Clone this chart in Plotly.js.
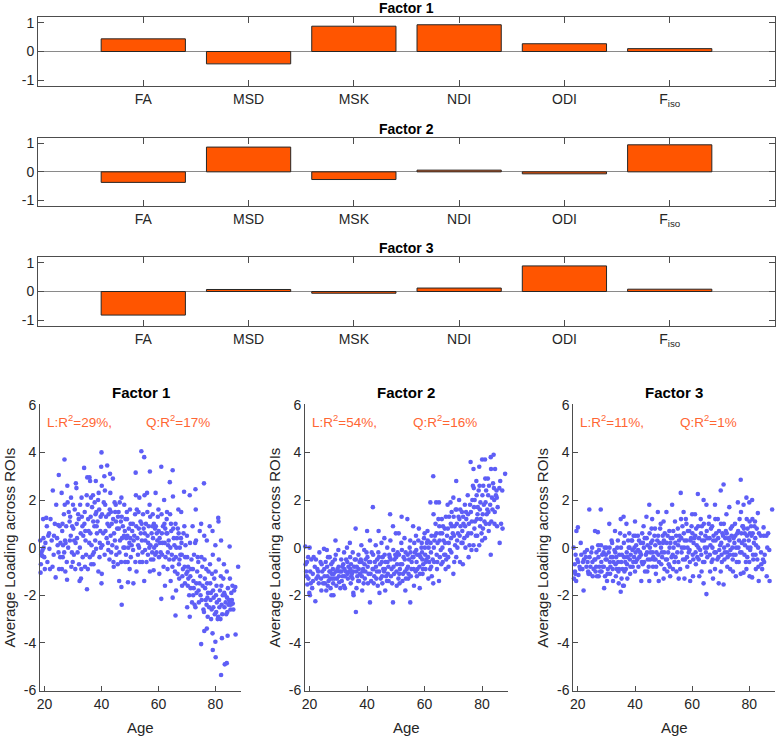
<!DOCTYPE html>
<html>
<head>
<meta charset="utf-8">
<script src="https://cdn.plot.ly/plotly-3.0.1.min.js"></script>
<style>html,body{margin:0;padding:0;background:#fff;}#chart{width:777px;height:736px;}</style>
</head>
<body>
<div id="chart"></div>
<script>
// ---------- Data ----------
const measures = ['FA','MSD','MSK','NDI','ODI','F<sub>iso</sub>'];
const factor1Loadings = [0.44,-0.43,0.88,0.93,0.27,0.10];
const factor2Loadings = [-0.37,0.87,-0.27,0.06,-0.07,0.95];
const factor3Loadings = [-0.82,0.07,-0.06,0.12,0.89,0.08];
const factorTitles = ['Factor 1','Factor 2','Factor 3'];
const linearR2 = ['29%','54%','11%'];
const quadR2 = ['17%','16%','1%'];

const factor1Points = [
[18.5,0.3],[18.6,-1.05],[18.9,-0.2],[19.2,-0.35],[19.5,1.2],[19.9,-0.4],[20.1,-0.9],[19.7,0.0],[20.6,1.25],[19.3,-0.1],[18.8,-0.3],[20.3,0.2],[21.0,-0.6],
[21.3,0.5],[21.7,-0.05],[22.1,1.2],[22.9,2.4],[23.3,0.5],[24.1,1.8],[23.9,-1.25],[24.4,0.4],[25.0,3.05],[25.3,0.9],[25.1,-0.9],[25.6,0.2],[21.6,0.6],[23.2,-0.3],[24.6,0.1],[22.5,0.3],[24.8,0.95],[25.5,-0.4],
[26.0,2.3],[26.2,0.7],[26.4,-0.4],[27.0,3.7],[27.2,0.3],[27.3,-1.0],[26.8,1.4],[28.0,2.6],[28.1,1.9],[28.3,0.0],[27.9,-1.35],[28.5,1.5],[29.0,1.3],[29.2,0.5],[29.4,-0.8],[30.0,1.8],[30.1,0.8],[30.3,-0.3],[30.6,1.6],[26.5,0.1],[29.6,-0.2],[30.4,0.3],[27.6,0.9],[28.8,1.1],[26.1,-0.9],[29.9,-0.6],[27.4,0.2],
[31.0,2.7],[31.2,2.5],[31.4,0.4],[32.0,1.2],[32.1,-0.7],[32.3,-1.4],[33.0,2.1],[33.1,1.3],[33.3,0.9],[32.8,-1.3],[33.9,3.35],[34.1,1.5],[34.2,-0.8],[34.4,0.3],[35.0,2.95],[35.1,1.8],[35.2,-0.9],[34.9,-1.75],[35.5,0.7],[32.4,0.0],[31.3,1.0],[34.0,1.0],[33.6,0.5],[31.8,1.4],[35.3,1.2],[34.6,-0.3],[32.7,0.6],
[36.0,2.8],[35.8,2.95],[36.2,1.3],[36.4,-0.7],[36.1,0.6],[37.0,2.2],[37.1,1.1],[37.3,-0.2],[37.2,-0.7],[38.0,2.8],[38.2,1.5],[38.4,0.6],[38.1,-0.05],[39.0,2.3],[39.2,1.6],[39.4,0.2],[38.9,-1.0],[40.0,4.0],[39.9,3.4],[40.1,2.6],[40.2,1.4],[40.3,0.1],[40.0,-1.5],[40.1,-1.1],[37.5,0.9],[39.6,0.7],[36.7,1.7],[38.6,1.1],[37.8,0.3],[39.7,1.3],[36.5,0.1],
[41.0,3.0],[41.2,2.4],[41.4,0.7],[41.1,-0.3],[42.0,3.45],[42.1,1.0],[42.3,0.2],[43.0,3.1],[43.1,2.3],[43.3,1.5],[43.2,0.5],[43.4,-0.2],[44.0,2.9],[44.1,1.2],[44.2,-0.6],[44.4,0.6],[45.0,1.8],[45.1,1.1],[45.3,0.0],[45.2,-0.3],[42.4,-0.1],[44.3,-0.8],[41.6,1.3],[42.7,0.9],[43.6,1.0],[44.7,0.3],[45.5,0.8],[42.9,1.6],
[46.0,1.5],[46.1,0.8],[46.3,-0.2],[46.2,-1.4],[47.0,2.1],[47.1,1.3],[47.2,0.4],[47.0,-1.65],[47.1,-2.4],[48.0,1.8],[48.2,0.7],[48.1,0.0],[48.3,-0.6],[49.0,1.2],[49.1,0.5],[49.2,-0.6],[49.3,-1.45],[50.0,1.6],[50.1,0.4],[50.3,-0.4],[50.2,1.0],[48.4,1.2],[46.5,0.3],[47.5,0.9],[48.7,0.4],[49.6,0.8],[46.8,1.1],[50.6,0.1],[49.8,0.2],[47.7,0.0],
[51.0,1.0],[51.1,-0.1],[51.2,-1.5],[52.0,3.15],[52.1,2.2],[52.2,0.9],[52.3,-1.0],[53.0,1.5],[53.1,0.8],[53.2,0.0],[53.3,2.1],[54.0,4.05],[54.1,1.0],[54.2,0.3],[54.3,-0.6],[55.0,3.8],[55.1,2.2],[55.2,0.6],[55.3,-0.1],[55.0,-1.4],[51.5,0.5],[53.5,-0.6],[52.6,0.4],[54.6,1.4],[51.8,1.4],[55.6,1.0],[53.8,0.6],[52.8,-0.3],
[56.0,2.3],[56.1,1.5],[56.2,0.5],[56.3,-0.3],[57.0,3.2],[57.1,1.3],[57.2,0.1],[57.0,-1.0],[58.0,1.4],[58.1,0.4],[58.2,-0.5],[58.3,-0.95],[59.0,2.3],[59.1,0.9],[59.2,0.1],[59.3,-0.2],[60.0,1.6],[60.1,0.7],[60.2,-0.4],[60.3,-1.1],[58.5,0.0],[60.5,0.2],[56.6,0.9],[57.6,0.6],[58.8,0.8],[59.6,0.3],[56.8,0.0],[57.8,-0.2],
[61.0,3.4],[61.1,1.4],[61.2,0.6],[61.3,-0.3],[61.0,-2.15],[62.0,2.0],[62.1,1.0],[62.2,0.2],[62.3,-1.6],[63.0,1.5],[63.1,0.6],[63.2,-0.9],[63.3,-0.2],[64.0,2.75],[64.1,1.4],[64.2,0.0],[64.3,-1.4],[65.0,3.25],[65.1,2.15],[65.2,0.8],[65.3,-0.5],[65.0,-2.1],[62.5,-0.4],[64.5,0.7],[61.6,0.9],[63.6,0.3],[62.8,0.6],[64.7,-0.3],[65.6,0.1],
[66.0,1.0],[66.1,-0.4],[66.2,-1.8],[66.0,-2.85],[67.0,1.6],[67.1,0.6],[67.2,-0.7],[67.3,-1.3],[68.0,1.5],[68.1,0.2],[68.2,-0.3],[68.3,-1.6],[69.0,2.35],[69.1,0.9],[69.2,-0.8],[69.3,-1.5],[70.0,0.5],[70.1,-0.4],[70.2,-1.0],[70.3,-1.6],[70.1,-2.5],[67.5,0.0],[69.5,0.1],[66.5,0.4],[68.6,-0.9],[70.5,-1.3],[67.7,-0.3],[66.7,-1.1],
[71.0,2.2],[71.1,0.2],[71.2,-1.2],[71.3,-1.7],[71.0,-2.9],[72.0,0.9],[72.1,-0.9],[72.2,-2.0],[72.3,-1.4],[73.0,2.45],[73.1,1.6],[73.2,0.3],[73.3,-1.5],[73.0,-2.5],[74.0,-0.6],[74.1,-1.8],[74.2,-2.3],[75.0,1.0],[75.1,-0.4],[75.2,-2.2],[75.0,-4.05],[72.5,-0.3],[74.5,0.7],[71.6,-0.5],[73.6,-1.0],[74.7,-1.2],[75.5,-1.6],[72.7,-2.4],
[76.0,2.7],[76.1,0.5],[76.2,-0.5],[76.3,-1.3],[76.0,-2.7],[76.1,-3.5],[77.0,0.3],[77.1,-1.5],[77.2,-2.1],[77.3,-2.9],[77.0,-3.4],[78.0,0.9],[78.1,-0.7],[78.2,-1.5],[78.3,-2.2],[79.0,0.7],[79.1,-0.3],[79.2,-1.8],[79.3,-2.5],[79.0,-3.6],[79.1,-4.3],[80.0,0.1],[80.1,-1.0],[80.2,-2.0],[80.3,-2.7],[80.0,-3.95],[80.1,-4.6],[78.5,-3.0],[76.6,-2.2],[77.6,-1.0],[78.7,-2.6],[79.6,-1.3],[80.5,-2.3],[76.8,-0.9],
[81.0,1.25],[81.1,1.1],[81.2,-0.5],[81.3,-2.2],[81.0,-2.9],[82.0,0.3],[82.1,-1.6],[82.2,-2.4],[82.3,-3.8],[82.0,-5.35],[83.0,-0.7],[83.1,-1.9],[83.2,-2.5],[83.3,-4.9],[84.0,-1.0],[84.1,-2.1],[84.2,-2.7],[84.0,-4.85],[84.3,-3.7],[85.0,0.05],[85.1,-1.3],[85.2,-2.3],[85.3,-2.6],[86.0,-1.6],[86.1,-2.35],[87.0,-1.65],[87.1,-3.65],[88.0,-0.8],[86.3,-2.6],[81.6,-1.8],[82.6,-2.0],[83.6,-2.3],[84.6,-2.4],[85.6,-1.9],[81.8,-3.0],
[22.8,-0.8],[23.6,1.0],[26.9,-0.2],[27.8,-0.6],[28.9,0.3],[29.7,0.9],[30.8,-0.9],[31.6,-0.2],[32.5,1.8],[33.4,-0.4],[34.8,2.2],[35.7,0.2],[36.3,2.1],[36.9,-0.3],[37.6,1.9],[38.3,0.9],[38.8,2.0],[39.3,-0.4],[40.6,0.6],[40.8,1.9],[41.8,0.4],[42.5,1.4],[43.8,0.1],[44.8,1.5],[45.7,-0.7],[46.4,1.9],[46.9,-0.6],[47.9,0.5],[48.6,-0.3],[48.9,1.5],[49.4,0.0],[49.9,-0.9],[50.8,0.7],[51.3,0.3],[51.9,-0.6],[52.4,1.6],[52.9,0.1],[53.7,1.1],[54.4,-0.2],[54.8,0.8],[55.4,0.3],[55.8,-0.6],[56.4,0.2],[56.9,1.8],[57.4,-0.5],[57.9,0.9],[58.4,1.0],[58.9,-0.3],[59.4,0.6],[59.8,1.3],[60.4,0.4],[60.8,-0.2],[61.4,0.2],[61.8,-0.8],[62.4,0.8],[62.9,1.2],[63.4,0.1],[63.8,-0.5],[64.4,1.0],[64.9,-0.8],[65.4,0.4],[65.8,-1.0],[66.3,0.0],[66.8,0.8],[67.4,-0.5],[67.9,0.4],[68.4,-1.2],[68.8,0.6],[69.4,-0.4],[69.8,-1.1],[70.4,-0.8],[70.8,-2.0],[71.4,-0.9],[71.8,-2.3],[72.4,-1.7],[72.9,0.2],[73.4,-1.9],[73.8,-0.4],[74.4,-1.5],[74.8,-2.0],[75.4,-0.8],[75.8,-2.6],[76.4,-1.7],[76.9,-2.4],[77.4,-1.9],[77.8,-2.5],[78.4,-1.9],[78.8,-1.1],[79.4,-2.1],[79.8,-2.8],[80.4,-1.6],[80.8,-3.0],[81.4,-2.5],[81.9,-1.2],[82.4,-2.8],[82.8,-1.3],[83.4,-2.0],[83.8,-2.8],[84.4,-1.7],[84.8,-2.2],[85.4,-2.4],[85.8,-2.2],[86.6,-1.8],[24.9,-0.2],[26.3,1.0],[27.1,1.8],[29.3,2.1],[30.9,0.2],[32.9,-0.9],[34.3,0.7],[35.9,-0.4],[37.9,1.4],[39.8,0.0],[41.3,1.8],[42.8,-0.5],[44.6,1.9],[45.8,1.3],[20.8,0.9],[21.9,-0.9],[19.6,0.4],[18.7,-0.7]
];

const factor2Points = [
[18.5,0.05],[18.6,-0.7],[19.0,-1.2],[19.2,-1.55],[19.5,-0.4],[19.9,-1.9],[20.1,-2.0],[20.0,0.0],[20.2,-1.0],[20.6,-0.5],[19.1,-0.6],[20.9,-1.7],
[21.1,-1.1],[22.0,-2.25],[22.2,-0.5],[23.0,-1.0],[23.2,-1.5],[24.0,-1.3],[24.2,-0.7],[24.1,-1.8],[25.0,-0.05],[25.1,-0.9],[25.3,-1.5],[25.2,-1.2],[22.4,-1.3],[23.4,-0.2],[24.4,-1.0],[21.4,-0.4],[22.7,-0.9],[25.6,-0.6],
[26.0,-0.1],[26.1,-0.8],[26.2,-1.2],[26.3,-1.6],[27.0,-0.4],[27.1,-1.0],[27.2,-1.3],[27.3,-1.7],[28.0,-0.6],[28.1,-0.9],[28.2,-1.5],[28.3,-2.0],[28.4,-1.1],[29.0,0.3],[29.1,-0.3],[29.2,-1.0],[29.3,-1.6],[30.0,-0.1],[30.1,-0.8],[30.2,-1.2],[30.3,-1.45],[27.5,-0.7],[29.5,-1.3],[30.5,-1.0],[26.6,-1.4],[28.6,-1.3],[27.7,-1.1],
[31.0,-0.5],[31.1,-1.0],[31.2,-1.4],[32.0,-0.2],[32.1,-0.9],[32.2,-1.2],[32.3,-1.7],[33.0,0.0],[33.1,-0.6],[33.2,-1.1],[33.3,-1.3],[34.0,0.2],[34.1,-0.4],[34.2,-0.9],[34.3,-1.5],[35.0,-0.2],[35.1,-1.0],[35.2,-1.9],[35.3,-2.0],[35.5,-0.8],[31.5,-1.2],[33.5,-0.8],[34.5,-1.2],[32.6,-1.0],[31.7,-0.7],[34.7,-1.1],
[36.0,0.8],[36.1,-0.5],[36.2,-1.0],[36.3,-1.7],[36.1,-2.7],[37.0,-0.3],[37.1,-0.9],[37.2,-1.4],[38.0,0.1],[38.1,-0.6],[38.2,-1.2],[38.3,-1.8],[39.0,-0.1],[39.1,-0.7],[39.2,-1.3],[40.0,0.7],[40.1,-0.4],[40.2,-0.8],[40.3,-1.5],[37.5,-1.1],[39.5,-0.5],[40.5,-1.1],[36.6,-1.2],[38.6,-0.9],[37.8,-0.5],
[41.0,0.3],[41.1,-0.6],[41.2,-1.1],[41.0,-2.3],[42.0,1.7],[42.1,-0.3],[42.2,-0.9],[42.3,-1.5],[43.0,0.1],[43.1,-0.8],[43.2,-1.3],[44.0,0.7],[44.1,-0.4],[44.2,-1.0],[44.3,-1.9],[45.0,0.2],[45.1,-0.6],[45.2,-1.2],[45.3,-1.5],[43.5,-0.5],[44.5,-0.7],[42.5,-1.2],[41.6,-0.2],[45.6,-0.9],[43.7,-1.6],
[46.0,0.4],[46.1,-0.3],[46.2,-0.9],[46.3,-1.8],[47.0,0.0],[47.1,-0.6],[47.2,-1.1],[48.0,1.4],[48.1,0.3],[48.2,-0.5],[48.3,-1.2],[49.0,0.9],[49.1,-0.1],[49.2,-0.8],[49.0,-2.3],[50.0,0.6],[50.1,-0.4],[50.2,-1.0],[50.3,-1.6],[47.5,-1.4],[49.5,-0.5],[48.5,-0.9],[46.6,-1.2],[50.6,-0.2],[47.7,-0.3],
[51.0,0.6],[51.1,-0.3],[51.2,-1.1],[51.3,-1.5],[52.0,1.3],[52.1,-0.1],[52.2,-0.7],[52.3,-1.4],[53.0,0.4],[53.1,-0.5],[53.2,-1.0],[53.3,-1.8],[54.0,1.2],[54.1,-0.3],[54.2,-0.8],[54.3,-1.3],[55.0,0.3],[55.1,-0.2],[55.2,-1.2],[55.0,-2.3],[53.5,-1.3],[52.5,-1.1],[55.5,-0.6],[51.6,-0.7],[54.6,-0.5],
[56.0,0.9],[56.1,-0.4],[56.2,-0.9],[56.3,-1.6],[57.0,0.5],[57.1,-0.1],[57.2,-0.6],[57.3,-1.2],[58.0,0.8],[58.1,-0.3],[58.2,-0.8],[58.3,-1.7],[59.0,0.2],[59.1,-0.2],[59.2,-0.5],[59.3,-1.1],[60.0,0.6],[60.1,0.0],[60.2,-0.3],[60.3,-0.9],[57.5,-0.9],[59.5,-0.7],[56.6,-0.2],[58.6,-0.4],[60.6,-0.5],
[61.0,0.7],[61.1,0.3],[61.2,-0.4],[61.3,-1.3],[62.0,1.9],[62.1,0.2],[62.2,-0.2],[62.3,-0.8],[63.0,3.0],[63.1,1.4],[63.2,0.0],[63.3,-0.6],[63.0,-1.5],[64.0,1.9],[64.1,0.6],[64.2,-0.3],[64.3,-0.9],[65.0,1.9],[65.1,0.9],[65.2,0.3],[65.3,-0.4],[65.0,-1.4],[62.5,-1.2],[64.5,0.2],[61.6,-0.6],[63.6,0.5],[65.6,-0.1],
[66.0,1.2],[66.1,0.6],[66.2,0.0],[66.3,-0.6],[67.0,0.8],[67.1,0.2],[67.2,-0.3],[67.3,-0.9],[68.0,1.8],[68.1,0.8],[68.2,-0.4],[68.3,-0.8],[69.0,1.9],[69.1,1.0],[69.2,0.4],[69.3,-0.2],[70.0,2.1],[70.1,1.3],[70.2,0.5],[70.3,-0.6],[70.0,-1.1],[67.5,-0.5],[69.5,0.9],[68.5,1.3],[66.6,0.3],[70.6,0.1],
[71.0,2.8],[71.1,1.6],[71.2,1.0],[71.3,0.3],[71.0,-0.4],[72.0,2.0],[72.1,1.2],[72.2,0.5],[72.3,-0.6],[73.0,1.5],[73.1,0.7],[73.2,0.2],[73.3,-0.7],[74.0,1.8],[74.1,0.9],[74.2,0.0],[75.0,2.2],[75.1,1.4],[75.2,0.6],[75.3,-0.4],[72.5,0.9],[74.5,1.2],[73.5,1.0],[71.6,0.6],[75.6,0.1],
[76.0,3.6],[76.1,1.5],[76.2,0.6],[76.3,-0.1],[77.0,3.3],[77.1,2.5],[77.2,1.7],[77.3,0.8],[77.0,0.1],[78.0,2.8],[78.1,2.2],[78.2,1.2],[78.3,0.5],[78.0,-0.1],[79.0,3.4],[79.1,2.6],[79.2,1.6],[79.3,0.9],[79.0,0.1],[80.0,3.7],[80.1,2.2],[80.2,1.4],[80.3,0.8],[80.0,0.3],[79.5,1.2],[78.5,1.7],[77.5,1.1],[76.6,2.0],[80.6,1.8],
[81.0,3.7],[81.1,2.9],[81.2,1.9],[81.3,1.0],[81.0,0.4],[82.0,2.9],[82.1,2.2],[82.2,1.5],[82.3,0.7],[83.0,3.8],[83.1,3.3],[83.2,1.1],[83.0,-0.3],[84.0,3.9],[84.1,2.5],[84.2,2.0],[84.3,1.0],[85.0,2.4],[85.1,2.1],[85.2,0.9],[86.0,2.5],[86.1,0.2],[87.0,2.4],[87.1,0.8],[88.0,3.1],[86.3,2.8],[82.5,1.0],[84.5,3.3],[81.6,1.4],[83.6,1.6],
[21.8,-0.8],[22.9,-1.2],[23.8,-0.6],[24.7,-1.5],[26.4,-0.4],[26.9,-1.0],[27.9,-1.3],[28.8,-0.5],[29.7,-0.9],[30.7,-1.7],[31.4,-0.8],[31.9,-1.6],[32.7,-0.5],[33.8,-1.0],[34.4,-0.7],[34.9,-1.3],[35.7,-0.5],[36.4,-0.8],[36.9,-1.4],[37.4,-0.6],[38.4,-1.0],[38.8,-1.5],[39.4,-1.0],[39.8,-0.2],[40.7,-0.6],[41.4,-1.4],[41.9,-0.9],[42.7,-0.6],[43.4,-1.0],[43.9,-0.2],[44.7,-1.3],[45.4,-0.4],[45.9,-1.0],[46.4,-0.6],[46.9,-1.4],[47.4,-0.8],[47.9,-0.4],[48.7,-1.5],[49.4,-1.1],[49.8,-0.3],[50.4,-0.7],[50.9,-1.3],[51.4,-0.9],[51.9,0.2],[52.7,-0.4],[53.4,-0.2],[53.8,-0.9],[54.4,-1.1],[54.8,0.0],[55.4,-0.9],[55.8,-0.4],[56.4,0.2],[56.9,-1.0],[57.4,-0.3],[57.8,0.3],[58.4,-1.1],[58.9,0.0],[59.4,-0.9],[59.8,0.4],[60.4,-0.6],[60.8,0.2],[61.4,0.0],[61.9,-0.9],[62.4,0.5],[62.8,-0.5],[63.4,0.3],[63.8,1.0],[64.4,-0.6],[64.8,1.2],[65.4,0.6],[65.8,-0.7],[66.4,0.9],[66.8,-0.3],[67.4,1.3],[67.8,0.5],[68.4,0.2],[68.8,-0.1],[69.4,1.5],[69.8,0.6],[70.4,0.9],[70.8,1.6],[71.4,0.0],[71.8,1.3],[72.4,1.6],[72.8,0.2],[73.4,1.3],[73.8,0.4],[74.4,1.5],[74.8,0.5],[75.4,1.0],[75.8,1.8],[76.4,1.1],[76.8,2.6],[77.4,2.0],[77.8,0.5],[78.4,1.4],[78.8,2.4],[79.4,1.9],[79.8,0.6],[80.4,2.6],[80.8,1.1],[81.4,2.4],[81.8,1.6],[82.4,2.6],[82.8,1.8],[83.4,2.1],[83.8,2.7],[84.4,1.5],[84.8,2.2],[85.4,1.7],[86.6,1.0],[18.8,-1.0],[19.6,-1.3],[20.4,-1.5],[21.2,-1.4],[25.8,-1.8],[27.6,-2.0]
];

const factor3Points = [
[18.5,0.0],[18.6,-1.3],[19.0,-1.0],[19.2,-0.3],[19.5,0.7],[19.4,-1.4],[20.0,0.85],[20.1,-0.6],[20.2,-1.15],[20.6,-0.8],[19.1,-1.1],
[21.0,0.2],[21.2,-0.3],[22.0,-1.8],[22.1,-0.5],[23.0,-0.8],[23.2,-0.1],[24.0,1.6],[24.1,-0.4],[24.2,-1.1],[25.0,0.0],[25.1,-0.6],[25.2,-1.2],[22.4,-0.2],[23.4,-0.6],[24.4,-0.8],[25.5,-0.9],[21.6,-0.9],[23.7,-1.1],
[26.0,0.7],[26.1,-0.5],[26.2,-1.0],[27.0,0.65],[27.1,0.1],[27.2,-0.4],[27.3,-1.2],[28.0,1.6],[28.1,0.1],[28.2,-0.6],[28.3,-1.0],[29.0,-0.2],[29.1,-0.8],[29.2,-1.7],[30.0,0.0],[30.1,-0.5],[30.2,-1.4],[26.5,-0.2],[28.5,-0.3],[29.5,-1.2],[30.5,-0.9],[27.5,-0.8],[26.7,-1.2],[29.7,-0.5],
[31.0,1.0],[31.1,0.0],[31.2,-0.6],[31.3,-1.1],[32.0,0.2],[32.1,-0.4],[32.2,-0.9],[32.3,-1.4],[33.0,0.7],[33.1,-0.2],[33.2,-0.7],[33.3,-1.2],[34.0,0.3],[34.1,-0.6],[34.2,-1.0],[34.3,-1.5],[35.0,1.2],[35.1,0.0],[35.2,-0.6],[35.0,-1.85],[35.3,-1.3],[32.5,-0.6],[34.5,-0.3],[31.6,-0.4],[33.6,-0.9],[35.6,-0.9],
[36.0,1.3],[36.1,0.2],[36.2,-0.4],[36.3,-1.0],[36.1,-1.6],[37.0,1.0],[37.1,-0.2],[37.2,-0.7],[37.3,-1.3],[38.0,0.6],[38.1,0.0],[38.2,-0.5],[38.3,-1.1],[39.0,0.3],[39.1,-0.1],[39.2,-0.8],[40.0,1.1],[40.1,0.5],[40.2,-0.2],[40.3,-0.6],[40.0,-1.0],[39.5,0.5],[38.5,-0.3],[36.6,-0.6],[37.6,0.3],[39.7,-0.4],
[41.0,0.5],[41.1,-0.1],[41.2,-0.8],[42.0,0.2],[42.1,-0.3],[42.2,-1.4],[43.0,0.9],[43.1,0.0],[43.2,-0.6],[44.0,1.3],[44.1,0.4],[44.2,-0.2],[44.3,-1.0],[45.0,1.8],[45.1,0.6],[45.2,0.0],[45.3,-0.5],[45.0,-1.4],[42.5,0.6],[43.5,-1.0],[44.5,-0.5],[41.5,-0.4],[42.7,-0.7],[45.6,0.2],
[46.0,1.2],[46.1,0.3],[46.2,-0.2],[46.3,-0.8],[47.0,0.8],[47.1,0.1],[47.2,-0.5],[47.3,-1.1],[48.0,1.5],[48.1,0.5],[48.2,-0.3],[48.3,-1.4],[49.0,1.0],[49.1,0.0],[49.2,-0.7],[50.0,1.1],[50.1,0.3],[50.2,-0.2],[50.3,-0.9],[50.0,-1.3],[47.5,-0.2],[49.5,-0.4],[48.5,0.2],[46.6,-0.5],[49.7,0.5],
[51.0,1.5],[51.1,0.2],[51.2,-0.5],[51.3,-1.0],[52.0,0.7],[52.1,0.0],[52.2,-0.8],[52.3,-1.2],[53.0,1.8],[53.1,0.4],[53.2,-0.3],[53.3,-0.9],[54.0,1.1],[54.1,0.2],[54.2,-0.4],[55.0,0.8],[55.1,0.1],[55.2,-0.6],[55.3,-1.3],[52.5,0.4],[54.5,-1.0],[53.5,0.0],[51.6,-0.2],[55.6,0.5],
[56.0,2.3],[56.1,1.2],[56.2,0.4],[56.3,-0.2],[57.0,1.5],[57.1,0.6],[57.2,0.0],[57.3,-1.3],[58.0,1.0],[58.1,0.3],[58.2,-0.4],[58.3,-0.8],[59.0,0.7],[59.1,-0.1],[59.2,-0.6],[59.3,-1.4],[60.0,1.4],[60.1,0.6],[60.2,-0.3],[60.3,-1.2],[58.5,0.7],[60.5,0.2],[57.5,-0.5],[56.6,0.9],[59.6,0.4],
[61.0,1.4],[61.1,0.5],[61.2,-0.2],[61.3,-0.7],[62.0,2.25],[62.1,0.9],[62.2,0.0],[62.3,-0.5],[63.0,1.2],[63.1,0.6],[63.2,-0.3],[63.3,-1.0],[64.0,2.0],[64.1,1.0],[64.2,0.3],[64.3,-0.6],[64.0,-1.5],[65.0,1.8],[65.1,0.7],[65.2,0.0],[65.3,-0.4],[65.0,-1.95],[63.5,0.3],[62.5,-1.2],[61.6,0.1],[64.6,0.5],
[66.0,1.3],[66.1,0.4],[66.2,-0.3],[66.3,-1.0],[67.0,0.9],[67.1,0.0],[67.2,-0.5],[67.3,-1.3],[68.0,1.8],[68.1,1.2],[68.2,0.3],[68.3,-0.2],[68.0,-0.9],[69.0,1.2],[69.1,0.4],[69.2,-0.4],[69.3,-1.5],[70.0,2.4],[70.1,1.0],[70.2,0.2],[70.3,-0.3],[70.0,-1.0],[67.5,0.5],[69.5,-0.1],[66.6,0.8],[70.6,0.6],
[71.0,2.65],[71.1,1.0],[71.2,0.0],[71.3,-0.5],[71.0,-1.55],[72.0,1.4],[72.1,0.6],[72.2,-0.2],[72.3,-0.8],[73.0,1.7],[73.1,0.3],[73.2,-0.3],[73.3,-0.9],[74.0,0.9],[74.1,0.0],[74.2,-0.5],[74.3,-1.0],[75.0,1.0],[75.1,0.5],[75.2,-0.3],[75.3,-1.2],[73.5,0.8],[72.5,0.1],[74.5,0.4],[71.6,0.4],[75.6,-0.6],
[76.0,1.9],[76.1,0.7],[76.2,0.0],[76.3,-0.6],[77.0,2.85],[77.1,1.5],[77.2,0.6],[77.3,-0.2],[77.0,-1.1],[78.0,1.8],[78.1,0.8],[78.2,0.3],[78.3,-0.3],[78.0,-1.05],[79.0,2.1],[79.1,1.2],[79.2,0.5],[79.3,-0.4],[79.0,-0.9],[80.0,1.9],[80.1,1.1],[80.2,0.6],[80.3,-0.1],[80.0,-0.6],[80.1,-1.2],[79.5,0.0],[78.5,0.1],[76.6,1.2],[77.6,0.9],[80.6,0.9],
[81.0,2.0],[81.1,1.2],[81.2,0.6],[81.3,-0.3],[81.0,-1.25],[82.0,1.1],[82.1,0.4],[82.2,-0.3],[82.3,-0.9],[83.0,1.45],[83.1,0.0],[83.2,-0.8],[83.3,-1.4],[84.0,0.5],[84.1,-0.2],[84.2,-0.7],[85.0,0.85],[85.1,0.5],[85.2,-0.6],[86.0,0.5],[86.1,-1.2],[87.0,-0.1],[87.1,-1.4],[88.0,1.6],[84.5,-0.9],[86.3,0.0],[81.6,0.2],[82.6,0.8],
[21.8,-0.6],[22.8,-0.4],[23.6,-1.0],[24.7,-0.2],[25.8,-0.5],[26.4,-0.8],[27.4,-0.1],[27.8,-1.0],[28.7,-0.8],[29.4,0.0],[29.8,-0.3],[30.4,-1.1],[30.8,-0.2],[31.4,-0.8],[31.8,0.3],[32.8,-0.1],[33.4,-0.4],[33.8,0.0],[34.4,-0.9],[34.8,0.6],[35.4,-0.3],[35.8,-1.6],[36.4,0.5],[36.8,-0.9],[37.4,-0.4],[37.8,0.0],[38.4,-0.8],[38.8,0.3],[39.4,-0.6],[39.8,0.0],[40.4,0.1],[40.8,-0.5],[41.4,0.3],[41.8,-0.2],[42.4,-0.6],[42.8,0.2],[43.4,0.4],[43.8,-0.3],[44.4,0.1],[44.8,-0.8],[45.4,-0.2],[45.8,0.8],[46.4,-0.4],[46.8,0.5],[47.4,-0.8],[47.8,0.3],[48.4,-0.6],[48.8,0.8],[49.4,-0.2],[49.8,0.2],[50.4,0.6],[50.8,-0.5],[51.4,0.5],[51.8,-0.7],[52.4,0.2],[52.8,-0.4],[53.4,0.7],[53.8,-0.6],[54.4,0.5],[54.8,-0.2],[55.4,0.3],[55.8,-0.9],[56.4,0.0],[56.8,-0.5],[57.4,0.3],[57.8,1.2],[58.4,0.0],[58.8,-0.2],[59.4,0.3],[59.8,0.9],[60.4,-0.5],[60.8,0.4],[61.4,0.8],[61.8,-0.4],[62.4,0.4],[62.8,-0.1],[63.4,0.9],[63.8,-0.6],[64.4,0.0],[64.8,-0.2],[65.4,0.4],[65.8,1.0],[66.4,0.1],[66.8,-0.6],[67.4,0.3],[67.8,-0.2],[68.4,0.6],[68.8,-0.5],[69.4,0.7],[69.8,0.1],[70.4,-0.6],[70.8,0.5],[71.4,-0.2],[71.8,0.7],[72.4,-0.4],[72.8,0.4],[73.4,-0.1],[73.8,0.5],[74.4,-0.3],[74.8,0.2],[75.4,0.0],[75.8,0.6],[76.4,0.3],[76.8,-0.2],[77.4,0.2],[77.8,0.9],[78.4,0.6],[78.8,-0.6],[79.4,0.8],[79.8,0.3],[80.4,0.0],[80.8,0.5],[81.4,-0.5],[81.8,0.9],[82.4,0.1],[82.8,-0.5],[83.4,0.6],[84.8,-0.5],[85.4,-0.3],[86.6,0.6],[19.8,-0.5],[20.8,-0.9],[18.9,-0.7]
];

const ageTicks = [20,40,60,80];
const loadingTicks = [-6,-4,-2,0,2,4,6];
const barTicks = [-1,0,1];

// ---------- Styling ----------
const FONT = 'Liberation Sans, Arial, Helvetica, sans-serif';
const AX = '#262626';
const BAR_COLOR = '#FF5500';
const DOT_COLOR = '#5E5EF6';
const TXT_COLOR = '#FF6633';
const W = 777, H = 736;
const px = v => v / W;
const py = v => 1 - v / H;

const barRows = [[17,86],[137.7,206],[257,326]];
const scatterCols = [[40,241],[305,508],[573.3,775]];
const scatterRow = [404.3,691];

const traces = [];
const layout = {
  width: W, height: H,
  margin: {l:0,r:0,t:0,b:0},
  paper_bgcolor: '#fff', plot_bgcolor: 'rgba(0,0,0,0)',
  showlegend: false,
  font: {family: FONT, size: 13, color: AX},
  annotations: [],
  bargap: 0.2
};

const loadingSets = [factor1Loadings, factor2Loadings, factor3Loadings];
loadingSets.forEach((vals, i) => {
  const n = i + 1;
  const xa = 'x' + (n === 1 ? '' : n), ya = 'y' + (n === 1 ? '' : n);
  traces.push({
    type: 'bar', x: measures, y: vals, xaxis: xa, yaxis: ya,
    marker: {color: BAR_COLOR, line: {color: '#262626', width: 1}},
    width: 0.8, hoverinfo: 'skip'
  });
  const [t, b] = barRows[i];
  layout['xaxis' + (n === 1 ? '' : n)] = {
    domain: [px(38), px(775)], anchor: ya, type: 'category',
    range: [-1, 6], showline: true, mirror: 'ticks', linecolor: '#4d4d4d', linewidth: 1,
    ticks: 'inside', ticklen: 6, tickcolor: '#4d4d4d', tickwidth: 1,
    showgrid: false, zeroline: false, tickfont: {size: 14, color: AX, family: FONT}, fixedrange: true
  };
  layout['yaxis' + (n === 1 ? '' : n)] = {
    domain: [py(b), py(t)], anchor: xa,
    range: [-1.2, 1.2], tickvals: barTicks, ticktext: barTicks.map(String),
    showline: true, mirror: 'ticks', linecolor: '#4d4d4d', linewidth: 1,
    ticks: 'inside', ticklen: 6, tickcolor: '#4d4d4d', tickwidth: 1,
    showgrid: false, zeroline: true, zerolinecolor: '#8a8a8a', zerolinewidth: 1.2,
    tickfont: {size: 14, color: AX, family: FONT}, fixedrange: true
  };
  layout.annotations.push({
    xref: 'paper', yref: 'paper', x: px((38 + 775) / 2), y: py(t - 9),
    text: '<b>' + factorTitles[i] + '</b>', showarrow: false,
    font: {size: 14, color: '#000', family: FONT}, xanchor: 'center', yanchor: 'middle'
  });
});

const pointSets = [factor1Points, factor2Points, factor3Points];
pointSets.forEach((pts, i) => {
  const n = i + 4;
  const xa = 'x' + n, ya = 'y' + n;
  traces.push({
    type: 'scatter', mode: 'markers',
    x: pts.map(p => p[0]), y: pts.map(p => p[1]),
    xaxis: xa, yaxis: ya,
    marker: {color: DOT_COLOR, size: 4.6, line: {width: 0}},
    hoverinfo: 'skip', cliponaxis: false
  });
  const [l, r] = scatterCols[i];
  layout['xaxis' + n] = {
    domain: [px(l), px(r)], anchor: ya, range: [18.4, 89],
    tickvals: ageTicks, ticktext: ageTicks.map(String),
    showline: true, linecolor: '#4d4d4d', linewidth: 1,
    ticks: 'inside', ticklen: 5, tickcolor: '#4d4d4d',
    showgrid: false, zeroline: false, tickfont: {size: 14, color: AX, family: FONT}, fixedrange: true
  };
  layout['yaxis' + n] = {
    domain: [py(scatterRow[1]), py(scatterRow[0])], anchor: xa, range: [-6.02, 6.02],
    tickvals: loadingTicks, ticktext: loadingTicks.map(String),
    showline: true, linecolor: '#4d4d4d', linewidth: 1,
    ticks: 'inside', ticklen: 5, tickcolor: '#4d4d4d',
    showgrid: false, zeroline: false, tickfont: {size: 14, color: AX, family: FONT}, fixedrange: true
  };
  const cx = (l + r) / 2;
  layout.annotations.push({
    xref: 'paper', yref: 'paper', x: px(cx), y: py(392),
    text: '<b>' + factorTitles[i] + '</b>', showarrow: false,
    font: {size: 15, color: '#000', family: FONT}, xanchor: 'center', yanchor: 'middle'
  });
  layout.annotations.push({
    xref: 'paper', yref: 'paper', x: px(cx), y: py(727),
    text: 'Age', showarrow: false,
    font: {size: 15, color: AX, family: FONT}, xanchor: 'center', yanchor: 'middle'
  });
  layout.annotations.push({
    xref: 'paper', yref: 'paper', x: px(l - 31), y: py(547.5),
    text: 'Average Loading across ROIs', showarrow: false, textangle: -90,
    font: {size: 15, color: AX, family: FONT}, xanchor: 'center', yanchor: 'middle'
  });
  layout.annotations.push({
    xref: xa, yref: ya, x: 20.1, y: 5.3,
    text: 'L:R<sup>2</sup>=' + linearR2[i] + ',', showarrow: false,
    font: {size: 13.5, color: TXT_COLOR, family: FONT}, xanchor: 'left', yanchor: 'middle'
  });
  layout.annotations.push({
    xref: xa, yref: ya, x: 55.1, y: 5.3,
    text: 'Q:R<sup>2</sup>=' + quadR2[i], showarrow: false,
    font: {size: 13.5, color: TXT_COLOR, family: FONT}, xanchor: 'left', yanchor: 'middle'
  });
});

Plotly.newPlot('chart', traces, layout, {staticPlot: true, displayModeBar: false});
</script>
</body>
</html>
